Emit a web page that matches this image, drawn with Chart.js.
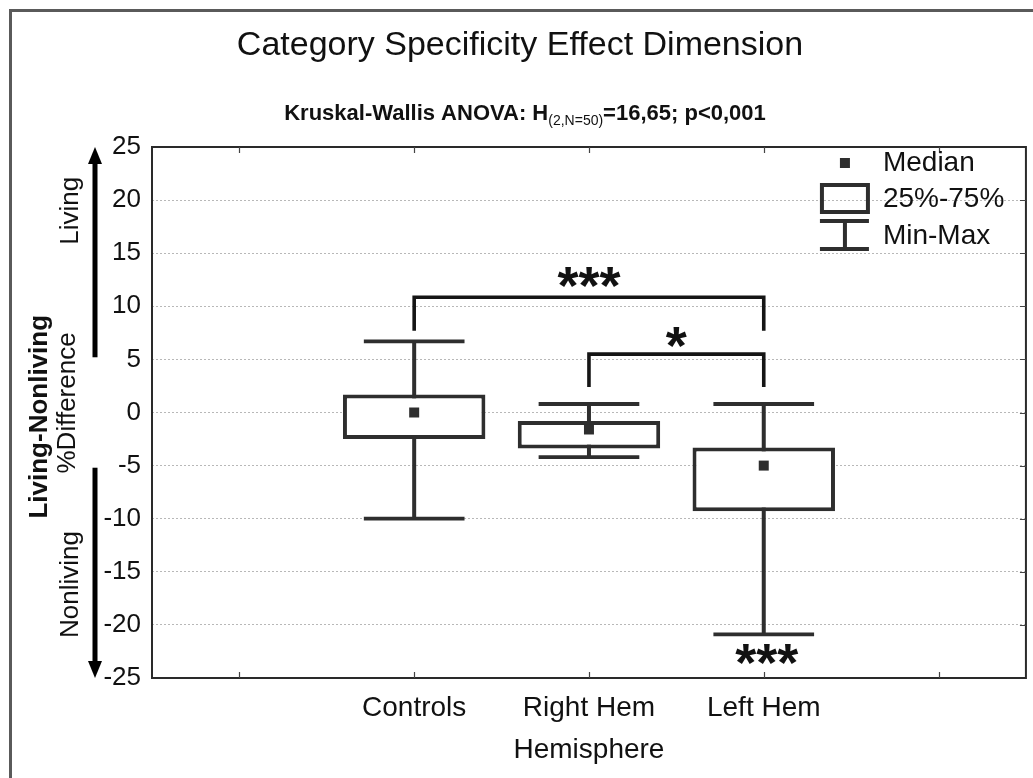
<!DOCTYPE html>
<html>
<head>
<meta charset="utf-8">
<title>Category Specificity Effect Dimension</title>
<script src="https://cdn.jsdelivr.net/npm/chart.js@4.4.1/dist/chart.umd.min.js"></script>
<style>
  html, body { margin: 0; padding: 0; background: #fff; overflow: hidden; }
  #wrap { position: relative; width: 1033px; height: 778px; }
</style>
</head>
<body>
<div id="wrap"><canvas id="chart" width="1033" height="778"></canvas></div>
<script>
// ---- data -------------------------------------------------------------
const groups = ['Controls', 'Right Hem', 'Left Hem'];
const slotLabels = ['', 'Controls', 'Right Hem', 'Left Hem', ''];
const minValues    = [-10.0, -4.2, -20.9];
const q1Values     = [-2.5, -3.4, -9.3];
const medianValues = [0.0, -1.6, -5.0];
const q3Values     = [1.7, -0.8, -3.3];
const maxValues    = [6.7, 0.8, 0.8];
const yTickValues  = [-25, -20, -15, -10, -5, 0, 5, 10, 15, 20, 25];

// pairwise comparisons: bracket between two groups, level of the bar and of its feet
const bracketFrom  = ['Controls', 'Right Hem'];
const bracketTo    = ['Left Hem', 'Left Hem'];
const bracketLevel = [10.85, 5.5];
const bracketFoot  = [7.7, 2.4];
const bracketStars = ['***', '*'];
const bracketStarLevel = [12.75, 7.1];

// single-group marker under the Left Hem whisker
const groupStarGroup = ['Left Hem'];
const groupStarText  = ['***'];
const groupStarLevel = [-22.8];

// ---- styling ----------------------------------------------------------
const FONT = "'Liberation Sans', Arial, Helvetica, sans-serif";
const INK = '#2e2e2e';
const BOX_FRACTION = 0.815;
const CAP_FRACTION = 0.576;

const slotIndex = name => groups.indexOf(name) + 1;

function drawCenteredGlyphs(ctx, text, x, y, font) {
  ctx.font = font;
  const m = ctx.measureText(text);
  ctx.textAlign = 'center';
  ctx.textBaseline = 'alphabetic';
  ctx.fillText(text, x, y + (m.actualBoundingBoxAscent - m.actualBoundingBoxDescent) / 2);
}

// whiskers sit behind the white boxes
const whiskerPlugin = {
  id: 'whiskers',
  beforeDatasetsDraw(chart) {
    const { ctx, scales: { x, y } } = chart;
    const slot = x.getPixelForValue(1) - x.getPixelForValue(0);
    const half = slot * CAP_FRACTION / 2;
    ctx.save();
    ctx.strokeStyle = INK;
    groups.forEach((g, i) => {
      const px = x.getPixelForValue(i + 1);
      const yMin = y.getPixelForValue(minValues[i]);
      const yMax = y.getPixelForValue(maxValues[i]);
      ctx.lineWidth = 4;
      ctx.beginPath();
      ctx.moveTo(px, yMin); ctx.lineTo(px, yMax);
      ctx.stroke();
      ctx.lineWidth = 3.8;
      ctx.beginPath();
      ctx.moveTo(px - half, yMin); ctx.lineTo(px + half, yMin);
      ctx.moveTo(px - half, yMax); ctx.lineTo(px + half, yMax);
      ctx.stroke();
    });
    ctx.restore();
  }
};

// frame, inward ticks, significance brackets and stars
const overlayPlugin = {
  id: 'overlay',
  afterDatasetsDraw(chart) {
    const { ctx, chartArea: a, scales: { x, y } } = chart;
    ctx.save();

    // plot frame
    ctx.strokeStyle = '#2a2a2a';
    ctx.lineWidth = 2;
    ctx.strokeRect(a.left, a.top, a.right - a.left, a.bottom - a.top);

    // inward ticks
    ctx.lineWidth = 1.2;
    ctx.strokeStyle = '#444';
    ctx.beginPath();
    slotLabels.forEach((lab, i) => {
      const px = Math.round(x.getPixelForValue(i)) + 0.5;
      ctx.moveTo(px, a.bottom); ctx.lineTo(px, a.bottom - 6);
      ctx.moveTo(px, a.top); ctx.lineTo(px, a.top + 6);
    });
    yTickValues.forEach(v => {
      if (v === yTickValues[0] || v === yTickValues[yTickValues.length - 1]) return;
      const py = Math.round(y.getPixelForValue(v)) + 0.5;
      ctx.moveTo(a.right, py); ctx.lineTo(a.right - 6, py);
    });
    ctx.stroke();

    // brackets
    ctx.strokeStyle = '#151515';
    ctx.lineWidth = 3.6;
    ctx.lineJoin = 'miter';
    ctx.fillStyle = '#111';
    bracketFrom.forEach((from, i) => {
      const x1 = x.getPixelForValue(slotIndex(from));
      const x2 = x.getPixelForValue(slotIndex(bracketTo[i]));
      const yl = y.getPixelForValue(bracketLevel[i]);
      const yf = y.getPixelForValue(bracketFoot[i]);
      ctx.beginPath();
      ctx.moveTo(x1, yf); ctx.lineTo(x1, yl); ctx.lineTo(x2, yl); ctx.lineTo(x2, yf);
      ctx.stroke();
      drawCenteredGlyphs(ctx, bracketStars[i], (x1 + x2) / 2,
        y.getPixelForValue(bracketStarLevel[i]), `bold 54px ${FONT}`);
    });
    groupStarGroup.forEach((g, i) => {
      drawCenteredGlyphs(ctx, groupStarText[i], x.getPixelForValue(slotIndex(g)) + 3,
        y.getPixelForValue(groupStarLevel[i]), `bold 54px ${FONT}`);
    });
    ctx.restore();
  },

  afterDraw(chart) {
    const { ctx, chartArea: a, scales: { y } } = chart;
    ctx.save();

    // outer figure border
    ctx.fillStyle = '#5a5a5a';
    ctx.fillRect(9, 9, chart.width - 9, 3);
    ctx.fillRect(9, 9, 3, chart.height - 9);

    // titles
    ctx.fillStyle = '#111';
    ctx.textAlign = 'center';
    ctx.textBaseline = 'middle';
    ctx.font = `34px ${FONT}`;
    ctx.fillText('Category Specificity Effect Dimension', 520, 46);

    const parts = [
      { t: 'Kruskal-Wallis ANOVA: H', f: `bold 22px ${FONT}`, dy: 0 },
      { t: '(2,N=50)', f: `14px ${FONT}`, dy: 5 },
      { t: '=16,65; p<0,001', f: `bold 22px ${FONT}`, dy: 0 }
    ];
    let total = 0;
    parts.forEach(p => { ctx.font = p.f; p.w = ctx.measureText(p.t).width; total += p.w; });
    let sx = 525 - total / 2;
    ctx.textAlign = 'left';
    ctx.textBaseline = 'alphabetic';
    parts.forEach(p => { ctx.font = p.f; ctx.fillText(p.t, sx, 120 + p.dy); sx += p.w; });

    // x axis title
    ctx.textAlign = 'center';
    ctx.textBaseline = 'middle';
    ctx.font = `28px ${FONT}`;
    ctx.fillText('Hemisphere', (a.left + a.right) / 2, 750);

    // y axis titles (rotated)
    const vText = (text, cx, cy, font) => {
      ctx.save();
      ctx.translate(cx, cy);
      ctx.rotate(-Math.PI / 2);
      ctx.font = font;
      ctx.textAlign = 'center';
      ctx.textBaseline = 'middle';
      ctx.fillText(text, 0, 0);
      ctx.restore();
    };
    vText('Living-Nonliving', 40, y.getPixelForValue(-0.4), `bold 26px ${FONT}`);
    vText('%Difference', 68, y.getPixelForValue(0.9), `26px ${FONT}`);
    vText('Living', 71, y.getPixelForValue(19), `26px ${FONT}`);
    vText('Nonliving', 71, y.getPixelForValue(-16.2), `26px ${FONT}`);

    // direction arrows
    const arrow = (x0, fromV, toV) => {
      const y0 = y.getPixelForValue(fromV);
      const y1 = y.getPixelForValue(toV);
      const dir = Math.sign(y1 - y0);
      const head = 17;
      ctx.fillStyle = '#000';
      ctx.fillRect(x0 - 2.5, Math.min(y0, y1 - dir * head), 5, Math.abs((y1 - dir * head) - y0));
      ctx.beginPath();
      ctx.moveTo(x0, y1);
      ctx.lineTo(x0 - 7, y1 - dir * head);
      ctx.lineTo(x0 + 7, y1 - dir * head);
      ctx.closePath();
      ctx.fill();
    };
    arrow(95, 5.2, 25);
    arrow(95, -5.2, -25);

    // legend
    const lx = a.right - 181;
    ctx.fillStyle = INK;
    ctx.fillRect(lx - 5, 158, 10, 10);
    ctx.strokeStyle = INK;
    ctx.lineWidth = 4;
    ctx.strokeRect(lx - 23, 185, 46, 27);
    ctx.beginPath();
    ctx.moveTo(lx - 25, 221); ctx.lineTo(lx + 24, 221);
    ctx.moveTo(lx, 221); ctx.lineTo(lx, 249);
    ctx.moveTo(lx - 25, 249); ctx.lineTo(lx + 24, 249);
    ctx.stroke();
    ctx.fillStyle = '#111';
    ctx.font = `28px ${FONT}`;
    ctx.textAlign = 'left';
    ctx.textBaseline = 'middle';
    ctx.fillText('Median', lx + 38, 163);
    ctx.fillText('25%-75%', lx + 38, 199);
    ctx.fillText('Min-Max', lx + 38, 236);
    ctx.restore();
  }
};

const boxRanges = [null, ...groups.map((g, i) => [q1Values[i], q3Values[i]]), null];
const medianPoints = [null, ...medianValues, null];

new Chart(document.getElementById('chart'), {
  data: {
    labels: slotLabels,
    datasets: [
      {
        type: 'line',
        label: 'Median',
        data: medianPoints,
        showLine: false,
        pointStyle: 'rect',
        pointRadius: 7.07,
        pointBackgroundColor: INK,
        pointBorderWidth: 0,
        order: 0
      },
      {
        type: 'bar',
        label: '25%-75%',
        data: boxRanges,
        backgroundColor: '#ffffff',
        borderColor: INK,
        borderWidth: 4,
        borderSkipped: false,
        barPercentage: BOX_FRACTION,
        categoryPercentage: 1,
        order: 1
      }
    ]
  },
  options: {
    responsive: false,
    animation: false,
    devicePixelRatio: 1,
    events: [],
    layout: { padding: { top: 147, right: 4, left: 0, bottom: 0 } },
    plugins: {
      legend: { display: false },
      tooltip: { enabled: false },
      title: { display: false }
    },
    scales: {
      x: {
        type: 'category',
        offset: true,
        grid: { display: false, drawTicks: false },
        border: { display: false },
        ticks: {
          autoSkip: false,
          maxRotation: 0,
          padding: 13,
          color: '#111',
          font: { family: FONT, size: 28 }
        },
        afterFit: s => { s.height = 100; }
      },
      y: {
        type: 'linear',
        min: yTickValues[0],
        max: yTickValues[yTickValues.length - 1],
        afterBuildTicks: s => { s.ticks = yTickValues.map(v => ({ value: v })); },
        grid: {
          drawTicks: false,
          lineWidth: 1,
          color: c => (c.tick && (c.tick.value === 25 || c.tick.value === -25)) ? 'rgba(0,0,0,0)' : '#b8b8b8'
        },
        border: { display: false, dash: [2, 2] },
        ticks: {
          padding: 11,
          color: '#111',
          font: { family: FONT, size: 26 },
          callback: v => String(v)
        },
        afterFit: s => { s.width = 152; }
      }
    }
  },
  plugins: [whiskerPlugin, overlayPlugin]
});
</script>
</body>
</html>
